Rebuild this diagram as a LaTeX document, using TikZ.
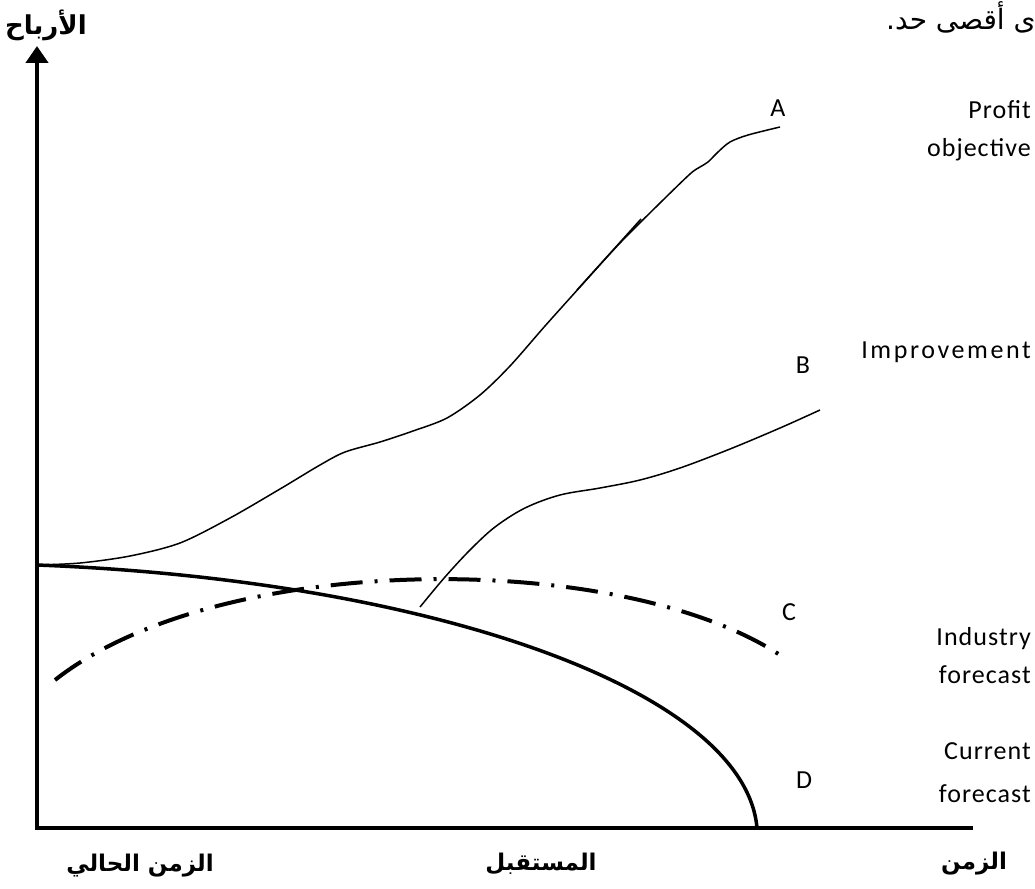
\documentclass[tikz,border=0pt]{standalone}
\usepackage{fontspec}
\setmainfont{Carlito}
\newfontfamily\arabicfont[Script=Arabic]{DejaVu Sans}
\newfontfamily\spacedfont[LetterSpace=4]{Carlito}
\newfontfamily\widefont[LetterSpace=10]{Carlito}
\TeXXeTstate=1
\usetikzlibrary{arrows.meta}

\begin{document}
\begin{tikzpicture}[x=1pt, y=-1pt,
  axis/.style={line width=4.5pt},
  thin curve/.style={line width=1.5pt},
  thick curve/.style={line width=3.5pt},
  dashdot curve/.style={line width=4pt, dash pattern=on 32pt off 12pt on 3pt off 12pt},
  lbl/.style={font=\fontsize{26}{30}\selectfont, inner sep=0pt},
  desc/.style={font=\spacedfont\fontsize{26}{38}\selectfont, inner sep=0pt, align=right},
  artitle/.style={font=\arabicfont\bfseries\fontsize{23}{26}\selectfont, inner sep=0pt},
  artext/.style={font=\arabicfont\fontsize{28}{30}\selectfont, inner sep=0pt}]

\useasboundingbox (0,0) rectangle (1035,888);

% axes
\coordinate (O) at (35,828);
\coordinate (ytop) at (37,46);
\coordinate (xend) at (973,828);
\draw[axis] (O) -- (xend);
\draw[axis, -{Triangle[width=22pt, length=17pt]}] (37,830) -- (ytop);

% curve D: current forecast
\draw[thick curve] (37,565) .. controls (430,580) and (745,690) .. (757,828);

% curve C: industry forecast
\draw[dashdot curve] (55,680) .. controls (220,550) and (620,550) .. (780,655);

% curve A: profit objective
\draw[thin curve] plot[smooth, tension=0.5] coordinates {
  (37,565) (80,563) (130,556) (180,543) (230,518) (280,489) (320,465)
  (345,452) (380,442) (413,431) (447,418) (480,395) (510,366) (545,326)
  (580,287) (620,243) (660,203) (690,174) (700,167) (708,162) (718,152)
  (730,142) (748,135) (780,127)};
\draw[thin curve] (577,290) -- (641,219);

% curve B: improvement
\draw[thin curve] plot[smooth, tension=0.55] coordinates {
  (420,607) (445,577) (470,550) (495,527) (525,508) (560,495) (600,488)
  (640,480) (680,468) (730,449) (780,428) (820,410)};

% curve letters
\node[lbl] (la) at (778,108) {A};
\node[lbl] (lb) at (803,365) {B};
\node[lbl] (lc) at (789,612) {C};
\node[lbl] (ld) at (804,780) {D};

% right-hand descriptions
\node[desc, anchor=north east] (dprofit) at (1031,100) {Profit\\objective};
\node[desc, font=\widefont\fontsize{26}{30}\selectfont, anchor=east] (dimp) at (1031,352) {Improvement};
\node[desc, anchor=north east] (dind) at (1031,627) {Industry\\forecast};
\node[desc, anchor=north east] (dcur) at (1031,742) {Current\\[5pt]forecast};

% arabic axis titles
\node[artitle, font=\arabicfont\bfseries\fontsize{26}{30}\selectfont] (yt) at (46,25) {\beginR الأرباح\endR};
\node[artitle] (x0) at (140,866) {\beginR الزمن الحالي\endR};
\node[artitle] (x1) at (541,864) {\beginR المستقبل\endR};
\node[artitle] (x2) at (974,864) {\beginR الزمن\endR};
\node[artext, anchor=west] (top) at (886,17) {\beginR ى أقصى حد.\endR};
\end{tikzpicture}
\end{document}
